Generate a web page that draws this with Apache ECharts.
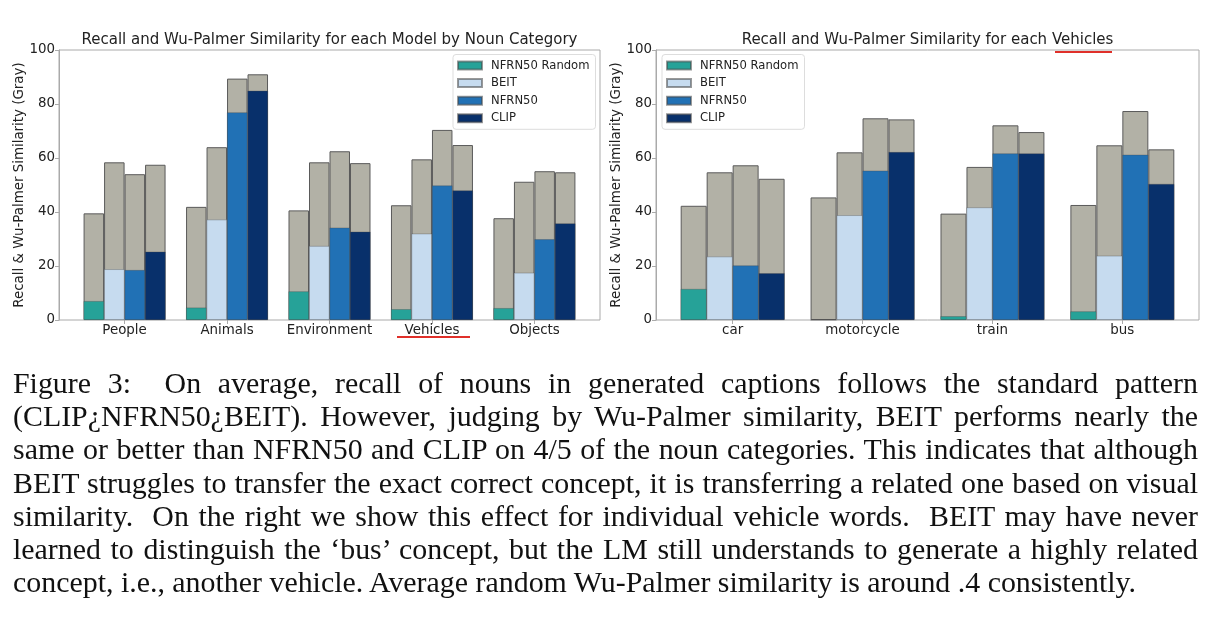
<!DOCTYPE html>
<html>
<head>
<meta charset="utf-8">
<script src="https://cdn.jsdelivr.net/npm/echarts@6/dist/echarts.min.js"></script>
<style>
  html, body { margin: 0; padding: 0; background: #fff; }
  #wrap { position: relative; width: 1214px; height: 626px; overflow: hidden; }
  #chart { position: absolute; left: 0; top: 0; width: 1214px; height: 626px; }
  #caption { position: absolute; left: 13px; top: 366px; width: 1185px;
    font-family: 'Liberation Serif', 'Times New Roman', serif; font-size: 29.9px;
    line-height: 33.2px; color: #111; }
  #caption div { text-align: justify; text-align-last: justify; white-space: nowrap; }
  #caption div.last { text-align: left; text-align-last: left; }
</style>
</head>
<body>
<div id="wrap">
  <div id="chart"></div>
  <div id="caption">
    <div>Figure 3:&nbsp; On average, recall of nouns in generated captions follows the standard pattern</div>
    <div>(CLIP¿NFRN50¿BEIT). However, judging by Wu-Palmer similarity, BEIT performs nearly the</div>
    <div>same or better than NFRN50 and CLIP on 4/5 of the noun categories. This indicates that although</div>
    <div>BEIT struggles to transfer the exact correct concept, it is transferring a related one based on visual</div>
    <div>similarity.&nbsp; On the right we show this effect for individual vehicle words.&nbsp; BEIT may have never</div>
    <div>learned to distinguish the ‘bus’ concept, but the LM still understands to generate a highly related</div>
    <div class="last">concept, i.e., another vehicle. Average random Wu-Palmer similarity is around .4 consistently.</div>
  </div>
</div>
<script>
// ---------------- data ----------------
const catsLeft = ['People', 'Animals', 'Environment', 'Vehicles', 'Objects'];
const catsRight = ['car', 'motorcycle', 'train', 'bus'];
const models = ['NFRN50 Random', 'BEIT', 'NFRN50', 'CLIP'];
const yTicks = [0, 20, 40, 60, 80, 100];

// Wu-Palmer similarity (gray bars), left chart
const simRandomL = [39.5, 41.9, 40.6, 42.5, 37.7];
const simBeitL   = [58.4, 64.0, 58.4, 59.5, 51.2];
const simNfrnL   = [54.0, 89.4, 62.5, 70.4, 55.1];
const simClipL   = [57.5, 91.0, 58.1, 64.8, 54.7];
// Recall (coloured bars), left chart
const recRandomL = [7.0, 4.6, 10.6, 4.0, 4.4];
const recBeitL   = [18.8, 37.2, 27.4, 32.0, 17.5];
const recNfrnL   = [18.5, 76.9, 34.2, 49.8, 29.9];
const recClipL   = [25.3, 84.9, 32.7, 48.0, 35.8];

// Wu-Palmer similarity (gray bars), right chart
const simRandomR = [42.3, 45.4, 39.4, 42.6];
const simBeitR   = [54.7, 62.1, 56.7, 64.7];
const simNfrnR   = [57.3, 74.7, 72.1, 77.4];
const simClipR   = [52.3, 74.3, 69.6, 63.2];
// Recall (coloured bars), right chart
const recRandomR = [11.5, 0.0, 1.4, 3.2];
const recBeitR   = [23.5, 38.8, 41.7, 23.8];
const recNfrnR   = [20.2, 55.3, 61.7, 61.2];
const recClipR   = [17.3, 62.2, 61.7, 50.4];

// ---------------- style ----------------
const FONT = 'DejaVu Sans';
const modelColors = ['#26a298', '#c6dbef', '#2171b5', '#08306b'];
const grayColor = '#b2b1a6';
const spineColor = '#aaaaaa';
const textColor = '#222222';

// plot frames (matplotlib axes boxes)
const frameL = { left: 59, top: 50, width: 541, height: 270 };
const frameR = { left: 656, top: 50, width: 543, height: 270 };

// matplotlib-like x-limits: groups of 4 bars of width 0.2, 5% margins
function barGrid(frame, n) {
  const lo = -0.4, hi = (n - 1) + 0.4;
  const m = 0.05 * (hi - lo);
  const unit = frame.width / ((hi - lo) + 2 * m);
  const firstCenter = frame.left + (-(lo - m)) * unit;
  return { left: firstCenter - unit / 2, top: frame.top, width: unit * n, height: frame.height };
}
const barsL = barGrid(frameL, catsLeft.length);
const barsR = barGrid(frameR, catsRight.length);

function frameYAxis(gridIndex) {
  return {
    type: 'value', gridIndex: gridIndex, min: 0, max: 100, interval: 20,
    name: 'Recall & Wu-Palmer Similarity (Gray)', nameLocation: 'middle', nameGap: 24,
    nameTextStyle: { fontFamily: FONT, fontSize: 13.4, color: textColor },
    axisLine: { show: true, lineStyle: { color: spineColor, width: 1 } },
    axisTick: { show: true, length: 4, lineStyle: { color: spineColor } },
    axisLabel: { fontFamily: FONT, fontSize: 13.4, color: textColor, margin: 4,
      formatter: v => yTicks.includes(v) ? String(v) : '' },
    splitLine: { show: false }
  };
}
function hiddenY(gridIndex) {
  return { type: 'value', gridIndex: gridIndex, min: 0, max: 100, show: false, splitLine: { show: false } };
}
function catAxis(gridIndex, cats, shown) {
  return {
    type: 'category', gridIndex: gridIndex, data: cats, show: shown,
    axisLine: { show: false },
    axisTick: { show: shown, alignWithLabel: true, length: 4, lineStyle: { color: spineColor } },
    axisLabel: { fontFamily: FONT, fontSize: 13.4, color: textColor, margin: 4, interval: 0 },
    splitLine: { show: false }
  };
}

const simL = [simRandomL, simBeitL, simNfrnL, simClipL];
const recL = [recRandomL, recBeitL, recNfrnL, recClipL];
const simR = [simRandomR, simBeitR, simNfrnR, simClipR];
const recR = [recRandomR, recBeitR, recNfrnR, recClipR];

const series = [];
function addSeries(sims, recs, xGray, xCol, yIdx) {
  models.forEach((m, i) => {
    series.push({
      type: 'bar', name: 'Wu-Palmer ' + m, xAxisIndex: xGray, yAxisIndex: yIdx,
      data: sims[i], barWidth: '20%', barGap: '0%', z: 2,
      itemStyle: { color: grayColor, borderColor: '#5a5a5a', borderWidth: 1 },
      emphasis: { disabled: true }
    });
  });
  models.forEach((m, i) => {
    series.push({
      type: 'bar', name: m, xAxisIndex: xCol, yAxisIndex: yIdx,
      data: recs[i], barWidth: '20%', barGap: '0%', z: 3,
      itemStyle: { color: modelColors[i], borderColor: 'rgba(70,70,70,0.55)', borderWidth: 0.6 },
      emphasis: { disabled: true }
    });
  });
}
addSeries(simL, recL, 1, 2, 1);
addSeries(simR, recR, 4, 5, 3);

function legendAt(left) {
  return {
    data: models, orient: 'vertical', left: left, top: 54.5,
    padding: [4, 6, 4, 4], itemWidth: 24, itemHeight: 8, itemGap: 3.6,
    icon: 'rect', selectedMode: false,
    backgroundColor: 'rgba(255,255,255,0.8)', borderColor: '#dddddd', borderWidth: 1, borderRadius: 3,
    textStyle: { fontFamily: FONT, fontSize: 11.6, color: textColor, lineHeight: 14, padding: [0, 0, 0, 4] }
  };
}

const titleStyle = { fontFamily: FONT, fontSize: 15, fontWeight: 'normal', color: textColor };

const option = {
  backgroundColor: '#ffffff',
  animation: false,
  title: [
    { text: 'Recall and Wu-Palmer Similarity for each Model by Noun Category',
      left: frameL.left + frameL.width / 2, top: 32.5, textAlign: 'center', padding: 0, textStyle: titleStyle },
    { text: 'Recall and Wu-Palmer Similarity for each Vehicles',
      left: frameR.left + frameR.width / 2, top: 32.5, textAlign: 'center', padding: 0, textStyle: titleStyle }
  ],
  legend: [legendAt(453), legendAt(662)],
  grid: [
    Object.assign({ show: true, borderColor: spineColor, borderWidth: 1, backgroundColor: 'transparent', containLabel: false }, frameL),
    Object.assign({ containLabel: false }, barsL),
    Object.assign({ show: true, borderColor: spineColor, borderWidth: 1, backgroundColor: 'transparent', containLabel: false }, frameR),
    Object.assign({ containLabel: false }, barsR)
  ],
  xAxis: [
    { type: 'value', gridIndex: 0, show: false, min: 0, max: 1 },
    catAxis(1, catsLeft, true),
    catAxis(1, catsLeft, false),
    { type: 'value', gridIndex: 2, show: false, min: 0, max: 1 },
    catAxis(3, catsRight, true),
    catAxis(3, catsRight, false)
  ],
  yAxis: [frameYAxis(0), hiddenY(1), frameYAxis(2), hiddenY(3)],
  series: series,
  graphic: [
    // red spell-check underlines seen in the reference screenshot
    { type: 'polyline', z: 100, shape: { points: [[397, 337], [470, 337]] }, style: { stroke: '#e0302a', lineWidth: 2 } },
    { type: 'polyline', z: 100, shape: { points: [[1055, 52], [1112, 52]] }, style: { stroke: '#e0302a', lineWidth: 2 } }
  ]
};

const chart = echarts.init(document.getElementById('chart'), null, { renderer: 'canvas' });
chart.setOption(option);
</script>
</body>
</html>
